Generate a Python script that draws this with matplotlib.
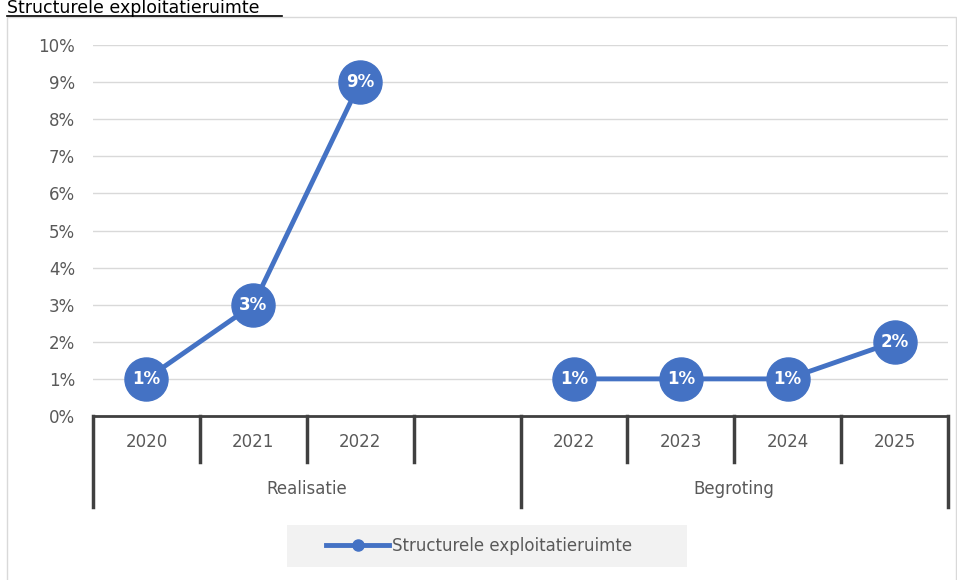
import matplotlib.pyplot as plt
from matplotlib.lines import Line2D
from matplotlib.patches import Rectangle
import numpy as np

years = ['2020', '2021', '2022', '', '2022', '2023', '2024', '2025']
groups = ['Realisatie', 'Begroting']
group_sizes = [4, 4]
values = [1, 3, 9, np.nan, 1, 1, 1, 2]  # percentages
series_name = 'Structurele exploitatieruimte'
title = 'Structurele exploitatieruimte'

blue = '#4472C4'
grey_txt = '#595959'
W, H = 957, 580

fig = plt.figure(figsize=(W / 100, H / 100), dpi=100)
plt.rcParams['font.family'] = ['DejaVu Sans']

# chart border
fig.patches.append(Rectangle((7 / W, -0.01), (W - 8) / W, (H - 17) / H + 0.01,
                             transform=fig.transFigure, fill=False,
                             edgecolor='#d9d9d9', linewidth=1))

# title
fig.text(7 / W, 1 - 13 / H, title, fontsize=12.5, color='black', va='baseline', ha='left')
fig.add_artist(Line2D([7 / W, 282 / W], [1 - 15.5 / H, 1 - 15.5 / H], color='black',
                      linewidth=1.2, transform=fig.transFigure))

ax = fig.add_axes([93 / W, (H - 416) / H, (948 - 93) / W, (416 - 45) / H])
x = np.arange(len(values))
ax.plot(x, values, color=blue, linewidth=3.5, marker='o', markersize=31,
        markerfacecolor=blue, markeredgecolor=blue, zorder=3, clip_on=False)
for xi, v in zip(x, values):
    if not np.isnan(v):
        ax.text(xi, v, f'{v:.0f}%', color='white', fontsize=12, fontweight='bold',
                ha='center', va='center', zorder=4)

ax.set_xlim(-0.5, len(values) - 0.5)
ax.set_ylim(0, 10)
ax.set_yticks(range(0, 11))
ax.set_yticklabels([f'{t}%' for t in range(0, 11)])
ax.tick_params(axis='y', length=0, labelsize=12, labelcolor=grey_txt, pad=13)
ax.set_xticks([])
ax.grid(axis='y', color='#d9d9d9', linewidth=1)
ax.set_axisbelow(True)
for s in ['top', 'right', 'left']:
    ax.spines[s].set_visible(False)
ax.spines['bottom'].set_color('#404040')
ax.spines['bottom'].set_linewidth(2)

# category labels and separators
trans = ax.get_xaxis_transform()
px = 1 / (416 - 45)  # one pixel in axes y units
for i, yr in enumerate(years):
    ax.text(i, -26 * px, yr, transform=trans, ha='center', va='center',
            fontsize=12, color=grey_txt)
bounds = np.cumsum([0] + group_sizes) - 0.5
for i in range(len(values) + 1):
    xb = i - 0.5
    depth = 91 if xb in bounds else 46
    ax.add_line(Line2D([xb, xb], [0, -depth * px], transform=trans, color='#404040',
                       linewidth=2.5, clip_on=False))
for g, start, size in zip(groups, bounds[:-1], group_sizes):
    ax.text(start + size / 2, -73 * px, g, transform=trans, ha='center', va='center',
            fontsize=12, color=grey_txt)

# legend (background box drawn separately)
fig.patches.append(Rectangle((287 / W, 1 - 567 / H), 400 / W, 42 / H,
                             transform=fig.transFigure, facecolor='#f2f2f2',
                             edgecolor='none', zorder=0))
handle = Line2D([], [], color=blue, linewidth=3.5, marker='o', markersize=8)
fig.legend([handle], [series_name], loc='center', bbox_to_anchor=(479 / W, 1 - 546 / H),
           frameon=False, fontsize=12, handlelength=3.8, handletextpad=0.15,
           labelcolor=grey_txt)

fig.savefig('out.png', dpi=100)
